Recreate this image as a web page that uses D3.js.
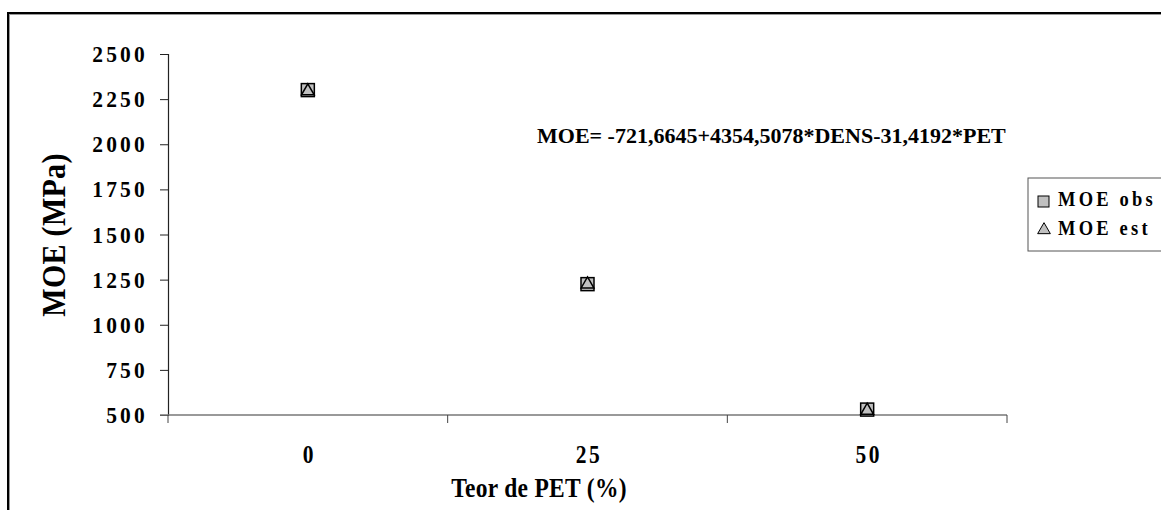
<!DOCTYPE html>
<html>
<head>
<meta charset="utf-8">
<script src="https://cdn.jsdelivr.net/npm/d3@7"></script>
<style>
  body { margin: 0; background: #fff; }
  text { font-family: "Liberation Serif", "Times New Roman", serif; font-weight: bold; fill: #000; }
</style>
</head>
<body>
<div id="main"></div>
<script>
const categories = ['0', '25', '50'];
const moeObs = [2300, 1225, 530];
const moeEst = [2300, 1230, 530];
const yTicks = [500, 750, 1000, 1250, 1500, 1750, 2000, 2250, 2500];
const seriesNames = ['MOE obs', 'MOE est'];
const equation = 'MOE= -721,6645+4354,5078*DENS-31,4192*PET';

const W = 1161, H = 510,
    plot = { left: 168, right: 1007, top: 54, bottom: 415 };

const svg = d3.select('#main').append('svg')
    .attr('width', W)
    .attr('height', H);

// text that is a bit taller than wide, like the original export
const label = (g, px, py, txt, size, sy, anchor, spacing, rot) => g.append('text')
    .attr('transform', 'translate(' + px + ',' + py + ')' + (rot ? ' rotate(' + rot + ')' : '') + ' scale(1,' + sy + ')')
    .attr('text-anchor', anchor)
    .attr('font-size', size)
    .attr('letter-spacing', spacing)
    .text(txt);

// outer chart frame (runs off the right and bottom edge)
svg.append('rect')
    .attr('x', 9).attr('y', 14)
    .attr('width', W + 20).attr('height', H + 20)
    .attr('fill', 'none').attr('stroke', '#999').attr('stroke-width', 2);
svg.append('rect')
    .attr('x', 8).attr('y', 13)
    .attr('width', W + 20).attr('height', H + 20)
    .attr('fill', 'none').attr('stroke', '#000').attr('stroke-width', 2);

const x = d3.scaleBand()
    .domain(categories)
    .range([plot.left, plot.right]);

const y = d3.scaleLinear()
    .domain([500, 2500])
    .range([plot.bottom, plot.top]);

// y axis
const yAxis = svg.append('g')
    .attr('transform', 'translate(' + plot.left + ',0)')
    .call(d3.axisLeft(y).tickValues(yTicks).tickSize(8).tickFormat(''));
yAxis.select('.domain').attr('stroke', '#222').attr('stroke-width', 1.2);
yAxis.selectAll('.tick line').attr('stroke', '#222');
const yLab = svg.append('g');
yTicks.forEach(t => label(yLab, 148, y(t) + 8, d3.format('d')(t), 21.5, 1.12, 'end', 3.2));

// x axis: ticks at band boundaries, labels at band centres
const xAxisG = svg.append('g')
    .attr('transform', 'translate(0,' + plot.bottom + ')');
xAxisG.append('line')
    .attr('x1', plot.left - 8).attr('x2', plot.right)
    .attr('stroke', '#777').attr('stroke-width', 1.5);
const bounds = categories.map(c => x(c)).concat([x(categories[categories.length - 1]) + x.bandwidth()]);
xAxisG.selectAll('line.tk')
    .data(bounds)
    .enter()
    .append('line')
    .attr('class', 'tk')
    .attr('x1', d => d).attr('x2', d => d)
    .attr('y1', 0).attr('y2', 8)
    .attr('stroke', '#444');
const xLab = svg.append('g');
categories.forEach(c => label(xLab, x(c) + x.bandwidth() / 2 + 1.5, 463, c, 21.5, 1.15, 'middle', 2.5));

// axis titles
label(svg, 539, 497, 'Teor de PET (%)', 23.5, 1.2, 'middle', 0.3);
label(svg, 65, 235, 'MOE (MPa)', 30, 1.1, 'middle', 0.3, -90);

// equation
svg.append('text')
    .attr('x', 537).attr('y', 143)
    .attr('font-size', 22)
    .text(equation);

// markers
const sq = 13;
svg.append('g').selectAll('rect')
    .data(moeObs)
    .enter()
    .append('rect')
    .attr('x', (d, i) => x(categories[i]) + x.bandwidth() / 2 - sq / 2)
    .attr('y', d => y(d) - sq / 2)
    .attr('width', sq).attr('height', sq)
    .attr('fill', '#c0c0c0').attr('stroke', '#000').attr('stroke-width', 1.5);

const tri = d3.symbol().type(d3.symbolTriangle).size(70);
svg.append('g').selectAll('path')
    .data(moeEst)
    .enter()
    .append('path')
    .attr('d', tri)
    .attr('transform', (d, i) => 'translate(' + (x(categories[i]) + x.bandwidth() / 2) + ',' + (y(d) + 1) + ')')
    .attr('fill', '#c0c0c0').attr('stroke', '#000').attr('stroke-width', 1.5);

// legend
const leg = svg.append('g');
leg.append('rect')
    .attr('x', 1028).attr('y', 178)
    .attr('width', 150).attr('height', 73)
    .attr('fill', '#fff').attr('stroke', '#555').attr('stroke-width', 1);
leg.append('rect')
    .attr('x', 1038).attr('y', 196)
    .attr('width', 11).attr('height', 11)
    .attr('fill', '#c0c0c0').attr('stroke', '#000');
leg.append('path')
    .attr('d', d3.symbol().type(d3.symbolTriangle).size(70))
    .attr('transform', 'translate(1044,230)')
    .attr('fill', '#c0c0c0').attr('stroke', '#000');
seriesNames.forEach((s, i) => label(leg, 1058, 206 + i * 29, s, 18.5, 1.1, 'start', 3.2));
</script>
</body>
</html>
